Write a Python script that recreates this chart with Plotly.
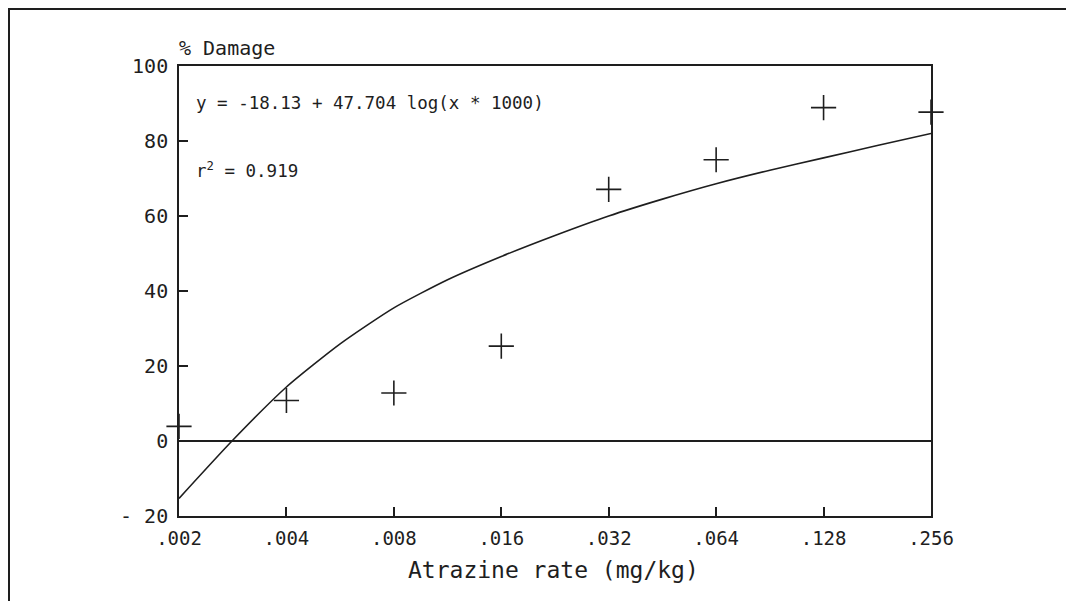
import math
import plotly.graph_objects as go

# ---- data ----
rates = [0.002, 0.004, 0.008, 0.016, 0.032, 0.064, 0.128, 0.256]
damage = [3.9, 10.8, 12.8, 25.3, 67.1, 75.0, 88.9, 87.7]

# fitted curve at half-doubling steps
curve_x = [0.002, 0.002828, 0.004, 0.005657, 0.008, 0.011314, 0.016, 0.022627,
           0.032, 0.045255, 0.064, 0.090510, 0.128, 0.181019, 0.256]
curve_y = [-15.3, 0.2, 14.4, 25.9, 35.5, 43.0, 49.2, 54.8,
           60.0, 64.5, 68.6, 72.2, 75.5, 78.8, 82.0]

x_tickvals = [0.002, 0.004, 0.008, 0.016, 0.032, 0.064, 0.128, 0.256]
x_ticktext = [".002", ".004", ".008", ".016", ".032", ".064", ".128", ".256"]
y_tickvals = [-20, 0, 20, 40, 60, 80, 100]
y_ticktext = ["- 20", "0", "20", "40", "60", "80", "100"]

equation = "y = -18.13 + 47.704 log(x * 1000)"
r2_text = "r<sup>2</sup> = 0.919"

FONT = "DejaVu Sans Mono, Liberation Mono, monospace"
INK = "#1e1e1e"

# the page adds an 8 px body margin, so the figure is laid out 8 px up/left
W, H = 1064, 593
L, R, T, B = 171, 923, 58, 508          # plot area in figure pixels
PW, PH = R - L, B - T


def px(xf):
    return (xf - L) / PW


def py(yf):
    return (B - yf) / PH


fig = go.Figure()
fig.add_trace(go.Scatter(
    x=curve_x, y=curve_y, mode="lines",
    line=dict(color=INK, width=1.6, shape="spline", smoothing=0.6),
    hoverinfo="skip", showlegend=False,
))
fig.add_trace(go.Scatter(
    x=rates, y=damage, mode="markers",
    marker=dict(symbol="cross-thin", size=18, line=dict(color=INK, width=1.6)),
    cliponaxis=False, showlegend=False,
))

fig.update_xaxes(
    type="log",
    range=[math.log10(x_tickvals[0]) - 1e-9, math.log10(x_tickvals[-1]) + 1e-9],
    tickvals=x_tickvals, ticktext=x_ticktext,
    ticks="inside", ticklen=9, tickwidth=1.5, tickcolor=INK,
    showline=True, linecolor=INK, linewidth=1.6, mirror=True,
    showgrid=False, zeroline=False,
    tickfont=dict(family=FONT, size=19, color=INK),
    ticklabelstandoff=4,
)
fig.update_yaxes(
    range=[-20, 100],
    tickvals=y_tickvals, ticktext=y_ticktext,
    ticks="inside", ticklen=9, tickwidth=1.5, tickcolor=INK,
    showline=True, linecolor=INK, linewidth=1.6, mirror=True,
    showgrid=False, zeroline=True, zerolinecolor=INK, zerolinewidth=1.6,
    tickfont=dict(family=FONT, size=20, color=INK),
    ticklabelstandoff=5,
)

fig.add_shape(type="rect", xref="paper", yref="paper",
              x0=px(1), x1=px(1063), y0=py(640), y1=py(1),
              line=dict(color=INK, width=2), layer="below")

fig.add_annotation(text="% Damage", xref="paper", yref="paper",
                   x=px(169), y=py(40), xanchor="left", yanchor="middle",
                   showarrow=False, font=dict(family=FONT, size=20, color=INK))
fig.add_annotation(text="Atrazine rate (mg/kg)", xref="paper", yref="paper",
                   x=px(545), y=py(562), xanchor="center", yanchor="middle",
                   showarrow=False, font=dict(family=FONT, size=23, color=INK))
fig.add_annotation(text=equation, xref="paper", yref="paper",
                   x=px(186), y=py(95), xanchor="left", yanchor="middle",
                   showarrow=False, font=dict(family=FONT, size=17.5, color=INK))
fig.add_annotation(text=r2_text, xref="paper", yref="paper",
                   x=px(186), y=py(162), xanchor="left", yanchor="middle",
                   showarrow=False, font=dict(family=FONT, size=17.5, color=INK))

fig.update_layout(
    width=W, height=H,
    margin=dict(l=L, r=W - R, t=T, b=H - B, autoexpand=False),
    paper_bgcolor="white", plot_bgcolor="white",
    font=dict(family=FONT, color=INK),
)

fig.write_html("out.html")
